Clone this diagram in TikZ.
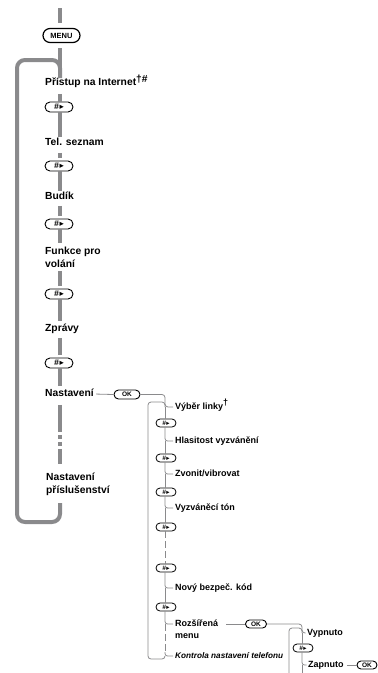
\documentclass[tikz,border=0pt]{standalone}
\usepackage{fontspec}
\setmainfont{Liberation Sans}
\newfontfamily\symfont{DejaVu Sans}
\usetikzlibrary{shapes.misc}
\definecolor{lgray}{RGB}{138,138,140}
\newcommand{\hashsym}{\bfseries\itshape\#\kern0.6pt{\symfont\upshape ▸}}
\tikzset{
 mline/.style={draw=lgray, line width=4pt},
 sline/.style={draw=lgray, line width=0.8pt},
 sdash/.style={sline, dash pattern=on 7pt off 3pt},
 mtext/.style={font=\bfseries\fontsize{10.3}{13}\selectfont, inner sep=0pt, anchor=west, text height=7.5pt, text depth=2pt},
 mtwo/.style={font=\bfseries\fontsize{10.3}{13}\selectfont, inner sep=0pt, anchor=north west, align=left},
 stext/.style={font=\bfseries\fontsize{9}{12}\selectfont, inner sep=0pt, anchor=west, text height=6.6pt, text depth=1.8pt},
 ktext/.style={font=\bfseries\itshape\fontsize{8.2}{10}\selectfont, inner sep=0pt, anchor=west, text height=6pt, text depth=1.6pt},
 pill/.style={rounded rectangle, draw=black, fill=white, line width=0.9pt, inner sep=0pt},
 hashbig/.style={pill, minimum width=28pt, minimum height=10pt, font=\fontsize{8.5}{8.5}\selectfont},
 hashsm/.style={pill, minimum width=20pt, minimum height=8pt, line width=0.8pt, font=\fontsize{6.5}{6.5}\selectfont},
 okpill/.style={pill, minimum height=9pt, font=\bfseries\fontsize{6.5}{6.5}\selectfont},
}
\begin{document}
\begin{tikzpicture}[x=1pt,y=-1pt]
\useasboundingbox (0,0) rectangle (378,673);
% columns
\coordinate (col) at (60,0);
\coordinate (scol) at (165,0);
\coordinate (tcol) at (302,0);
\coordinate (top) at (60,8);
% main column nodes
\node[pill, minimum width=37pt, minimum height=14pt, line width=1.2pt, font=\bfseries\fontsize{7.5}{7.5}\selectfont] (menu) at (61.5,35.5) {MENU};
\node[mtext] (pristup) at (45,83) {Přístup na Internet\raisebox{3.5pt}{†\#}};
\node[hashbig] (p1) at (59,107) {\hashsym};
\node[mtext] (tel) at (45,143) {Tel. seznam};
\node[hashbig] (p2) at (59,166) {\hashsym};
\node[mtext] (budik) at (45,197) {Budík};
\node[hashbig] (p3) at (59,224) {\hashsym};
\node[mtwo] (funkce) at (45,247) {Funkce pro\\volání};
\node[hashbig] (p4) at (59,294) {\hashsym};
\node[mtext] (zpravy) at (45,329) {Zprávy};
\node[hashbig] (p5) at (59,363) {\hashsym};
\node[mtext] (nast) at (45,394) {Nastavení};
\node[okpill, minimum width=26pt] (okA) at (127,394.5) {OK};
\node[mtwo] (prisl) at (46,473) {Nastavení\\příslušenství};
% loop corners
\coordinate (mlb) at (17,522);
\coordinate (mlt) at (17,60);
% main lines
\draw[mline, shorten >=5pt] (top) -- (menu.north -| col);
\draw[mline, shorten <=5pt, shorten >=3pt] (menu.south -| col) -- (pristup.north -| col);
\draw[mline, shorten <=6pt] (pristup.south -| col) -- (p1.north -| col);
\draw[mline, shorten >=1pt] (p1.south -| col) -- (tel.north -| col);
\draw[mline, shorten <=5pt, shorten >=3pt] (tel.south -| col) -- (p2.north -| col);
\draw[mline, shorten >=1pt] (p2.south -| col) -- (budik.north -| col);
\draw[mline, shorten <=4pt, shorten >=3pt] (budik.south -| col) -- (p3.north -| col);
\draw[mline, shorten >=4pt] (p3.south -| col) -- (funkce.north -| col);
\draw[mline, shorten <=3pt, shorten >=3pt] (funkce.south -| col) -- (p4.north -| col);
\draw[mline, shorten >=3pt] (p4.south -| col) -- (zpravy.north -| col);
\draw[mline, shorten <=4pt, shorten >=3pt] (zpravy.south -| col) -- (p5.north -| col);
\draw[mline, shorten >=3pt] (p5.south -| col) -- (nast.north -| col);
\draw[mline, shorten <=6pt, shorten >=9pt, dash pattern=on 27pt off 3pt on 4pt off 3pt on 4pt off 3pt on 80pt] (nast.south -| col) -- (prisl.north -| col);
\draw[mline, rounded corners=8pt, shorten <=7pt] (prisl.south -| col) -- (col |- mlb) -- (mlb) -- (mlt) -- (col |- mlt) -- (pristup.north -| col);
% sub menu nodes
\node[stext] (vyber) at (175,407) {Výběr linky\raisebox{3.5pt}{†}};
\node[hashsm] (s1) at (166,423) {\hashsym};
\node[stext] (hlas) at (175,441) {Hlasitost vyzvánění};
\node[hashsm] (s2) at (166,458) {\hashsym};
\node[stext] (zvon) at (175,474) {Zvonit/vibrovat};
\node[hashsm] (s3) at (166,492) {\hashsym};
\node[stext] (vyzv) at (175,508) {Vyzváněcí tón};
\node[hashsm] (s4) at (166,527) {\hashsym};
\node[hashsm] (s5) at (166,568) {\hashsym};
\node[stext] (novy) at (175,588) {Nový bezpeč. kód};
\node[hashsm] (s6) at (166,607) {\hashsym};
\node[stext] (rozs1) at (175,624) {Rozšířená};
\node[stext] (rozs2) at (175,636) {menu};
\node[ktext] (kontr) at (175,656) {Kontrola nastavení telefonu};
\node[okpill, minimum width=21pt, minimum height=8pt] (okB) at (256,624) {OK};
\node[stext] (vyp) at (307,633) {Vypnuto};
\node[hashsm] (t1) at (303,648) {\hashsym};
\node[stext] (zap) at (308,665) {Zapnuto};
\node[okpill, minimum width=20pt, minimum height=8pt] (okC) at (367,665) {OK};
% sub loop corners
\coordinate (slb) at (148,659);
\coordinate (slt) at (148,402);
\coordinate (tlt) at (289,628);
\coordinate (tlb) at (289,673);
\coordinate (tbot) at (302,673);
% sub connectors
\draw[sline, shorten <=2pt] (nast.east) -- (okA.west);
\draw[sline, rounded corners=3pt] (okA.east) -- (okA.east -| scol) -- (vyber.west -| scol) -- ([xshift=-2pt]vyber.west);
\draw[sline, rounded corners=3pt] (kontr.west -| scol) -- (scol |- slb) -- (slb) -- (slt) -- (scol |- slt) -- (vyber.west -| scol);
\draw[sline] (vyber.west -| scol) -- (s1.north -| scol);
\draw[sline, rounded corners=2.5pt] (s1.south -| scol) -- (hlas.west -| scol) -- ([xshift=-2pt]hlas.west);
\draw[sline] (hlas.west -| scol) -- (s2.north -| scol);
\draw[sline, rounded corners=2.5pt] (s2.south -| scol) -- (zvon.west -| scol) -- ([xshift=-2pt]zvon.west);
\draw[sline] (zvon.west -| scol) -- (s3.north -| scol);
\draw[sline, rounded corners=2.5pt] (s3.south -| scol) -- (vyzv.west -| scol) -- ([xshift=-2pt]vyzv.west);
\draw[sline] (vyzv.west -| scol) -- (s4.north -| scol);
\draw[sdash] (s4.south -| scol) -- (s5.north -| scol);
\draw[sline, rounded corners=2.5pt] (s5.south -| scol) -- (novy.west -| scol) -- ([xshift=-2pt]novy.west);
\draw[sline] (novy.west -| scol) -- (s6.north -| scol);
\draw[sline, rounded corners=2.5pt] (s6.south -| scol) -- (rozs1.west -| scol) -- ([xshift=-2pt]rozs1.west);
\draw[sdash] (rozs1.west -| scol) -- ([yshift=4pt]kontr.west -| scol);
\draw[sline, rounded corners=2.5pt] ([yshift=4pt]kontr.west -| scol) -- (kontr.west -| scol) -- ([xshift=-2pt]kontr.west);
\draw[sline, shorten <=8pt] (rozs1.east) -- (okB.west);
\draw[sline, rounded corners=3pt] (okB.east) -- (okB.east -| tcol) -- (vyp.west -| tcol) -- ([xshift=-1.5pt]vyp.west);
\draw[sline, rounded corners=3pt] (tlb) -- (tlt) -- (tcol |- tlt) -- (vyp.west -| tcol);
\draw[sline] (vyp.west -| tcol) -- (t1.north -| tcol);
\draw[sline, rounded corners=2.5pt] (t1.south -| tcol) -- (zap.west -| tcol) -- ([xshift=-1.5pt]zap.west);
\draw[sline] (zap.west -| tcol) -- (tbot);
\draw[sline, shorten <=3pt] (zap.east) -- (okC.west);
\end{tikzpicture}
\end{document}
